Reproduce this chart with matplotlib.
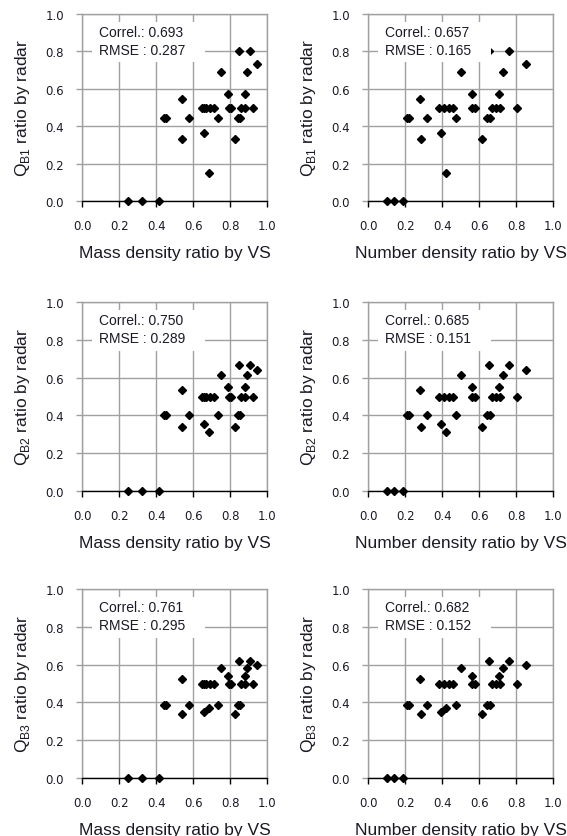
import matplotlib
matplotlib.use("Agg")
import matplotlib.pyplot as plt
from matplotlib.patches import Rectangle

plt.rcParams['font.family'] = ['Liberation Sans', 'DejaVu Sans']
plt.rcParams['mathtext.fontset'] = 'custom'
plt.rcParams['mathtext.rm'] = 'Liberation Sans'

# ---- data (31 samples) ----
mass_ratio = [0.249, 0.324, 0.413,
              0.441, 0.452, 0.578, 0.732, 0.843, 0.856,
              0.539,
              0.539, 0.829,
              0.658,
              0.686,
              0.648, 0.660, 0.672, 0.690, 0.715, 0.795, 0.807, 0.858, 0.879, 0.924,
              0.751, 0.890,
              0.789, 0.879,
              0.849, 0.906,
              0.948]
number_ratio = [0.101, 0.141, 0.189,
                0.207, 0.220, 0.317, 0.476, 0.640, 0.661,
                0.279,
                0.283, 0.618,
                0.395,
                0.422,
                0.384, 0.411, 0.436, 0.461, 0.562, 0.580, 0.670, 0.692, 0.715, 0.804,
                0.501, 0.730,
                0.559, 0.705,
                0.655, 0.762,
                0.856]
qb1 = [0, 0, 0,
       0.445, 0.445, 0.445, 0.445, 0.445, 0.445,
       0.545,
       0.334, 0.334,
       0.364,
       0.152,
       0.5, 0.5, 0.5, 0.5, 0.5, 0.5, 0.5, 0.5, 0.5, 0.5,
       0.688, 0.688,
       0.571, 0.571,
       0.800, 0.800,
       0.734]
qb2 = [0, 0, 0,
       0.404, 0.404, 0.404, 0.404, 0.404, 0.404,
       0.533,
       0.337, 0.337,
       0.357,
       0.312,
       0.5, 0.5, 0.5, 0.5, 0.5, 0.5, 0.5, 0.5, 0.5, 0.5,
       0.616, 0.616,
       0.550, 0.550,
       0.668, 0.668,
       0.640]
qb3 = [0, 0, 0,
       0.385, 0.385, 0.385, 0.385, 0.385, 0.385,
       0.525,
       0.336, 0.336,
       0.350,
       0.372,
       0.5, 0.5, 0.5, 0.5, 0.5, 0.5, 0.5, 0.5, 0.5, 0.5,
       0.580, 0.580,
       0.541, 0.541,
       0.621, 0.621,
       0.598]

correl = [[0.693, 0.657], [0.750, 0.685], [0.761, 0.682]]
rmse = [[0.287, 0.165], [0.289, 0.151], [0.295, 0.152]]
x_labels = ["Mass density ratio by VS", "Number density ratio by VS"]
y_names = ["B1", "B2", "B3"]
tick_vals = [0.0, 0.2, 0.4, 0.6, 0.8, 1.0]
tick_labels = ["0.0", "0.2", "0.4", "0.6", "0.8", "1.0"]

xs = [mass_ratio, number_ratio]
ys = [qb1, qb2, qb3]

W, H = 567, 837
fig = plt.figure(figsize=(W / 100, H / 100), dpi=100)

col_left = [82.3, 368.3]
ax_w = 184.7
row_top = [15, 303, 590]
row_bot = [202, 492, 779]

grid_c = '#a0a0a0'
txt_c = '#1a1a26'
for r in range(3):
    for c in range(2):
        l = col_left[c] / W
        b = 1 - row_bot[r] / H
        h = (row_bot[r] - row_top[r]) / H
        ax = fig.add_axes([l, b, ax_w / W, h])
        ax.set_xlim(0, 1.0)
        ax.set_ylim(0, 1.0)
        ax.set_xticks(tick_vals)
        ax.set_xticklabels(tick_labels, family='DejaVu Sans')
        ax.set_yticks(tick_vals)
        ax.set_yticklabels(tick_labels, family='DejaVu Sans')
        ax.grid(True, color=grid_c, lw=1.0, zorder=0)
        ax.set_axisbelow(True)
        for s in ['top', 'right', 'left']:
            ax.spines[s].set_color(grid_c)
            ax.spines[s].set_linewidth(1.0)
        ax.spines['bottom'].set_color('black')
        ax.spines['bottom'].set_linewidth(1.0)
        ax.tick_params(axis='x', direction='out', length=4, width=1.0,
                       color='black', pad=9, labelsize=8.5, labelcolor=txt_c)
        ax.tick_params(axis='y', direction='out', length=4, width=1.0,
                       color=grid_c, pad=9, labelsize=8.5, labelcolor=txt_c)
        ax.plot(xs[c], ys[r], linestyle='none', marker='D', ms=4.2,
                color='black', zorder=2, clip_on=False)
        ax.add_patch(Rectangle((0.052, 0.743), 0.61, 0.214, transform=ax.transAxes,
                               facecolor='white', edgecolor='none', zorder=3))
        ax.text(0.092, 0.904, f"Correl.: {correl[r][c]:.3f}", transform=ax.transAxes,
                fontsize=10, va='center', ha='left', color=txt_c, zorder=4)
        ax.text(0.092, 0.807, f"RMSE : {rmse[r][c]:.3f}", transform=ax.transAxes,
                fontsize=10, va='center', ha='left', color=txt_c, zorder=4)
        ax.set_xlabel(x_labels[c], fontsize=12.5, color=txt_c)
        ax.xaxis.set_label_coords(0.5, -0.275)
        ax.xaxis.label.set_va('center')
        ax.set_ylabel(r"Q$_{\mathrm{" + y_names[r] + r"}}$ ratio by radar",
                      fontsize=12.5, color=txt_c)
        ax.yaxis.set_label_coords(-0.322, 0.5)
        ax.yaxis.label.set_va('center')

fig.savefig("out.png", dpi=100)
